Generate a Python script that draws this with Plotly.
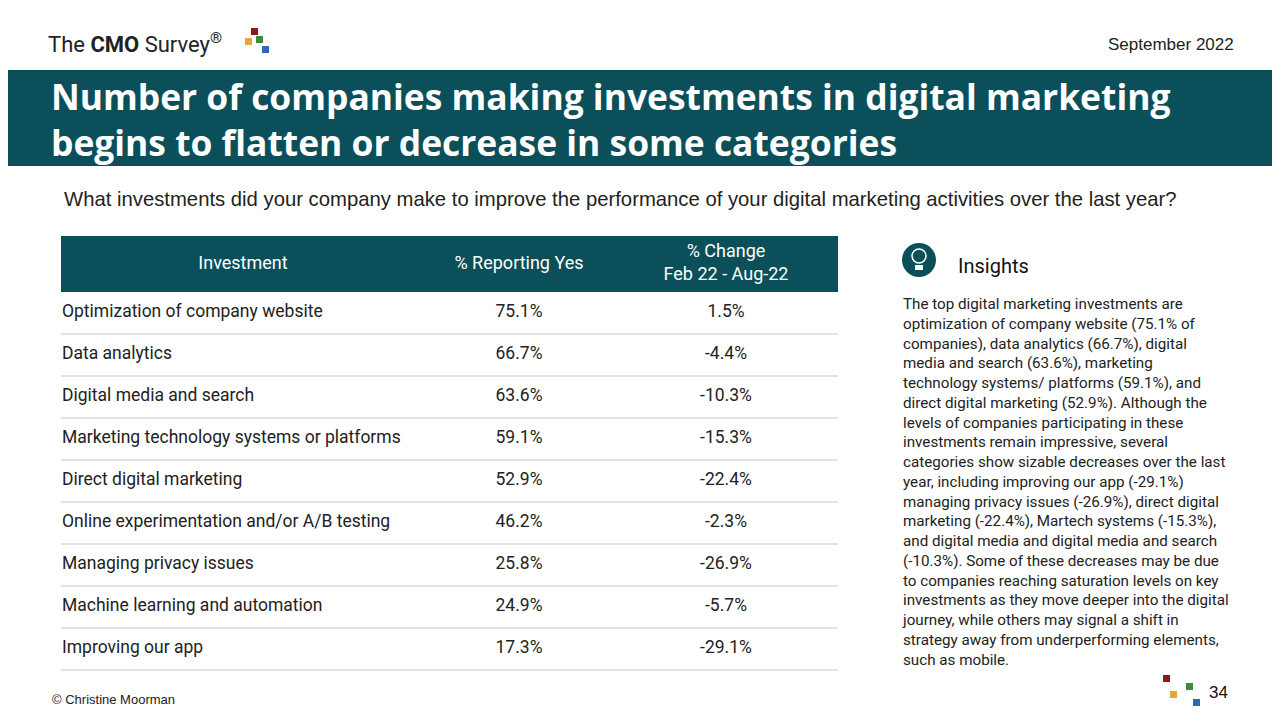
import plotly.graph_objects as go

investments = [
    "Optimization of company website",
    "Data analytics",
    "Digital media and search",
    "Marketing technology systems or platforms",
    "Direct digital marketing",
    "Online experimentation and/or A/B testing",
    "Managing privacy issues",
    "Machine learning and automation",
    "Improving our app",
]
pct_yes = [75.1, 66.7, 63.6, 59.1, 52.9, 46.2, 25.8, 24.9, 17.3]
pct_change = [1.5, -4.4, -10.3, -15.3, -22.4, -2.3, -26.9, -5.7, -29.1]
headers = ["Investment", "% Reporting Yes", "% Change<br>Feb 22 - Aug-22"]

TEAL = "#0b4f5a"
FONT = "Roboto, Arial, sans-serif"
ARIAL = "Liberation Sans, Arial, sans-serif"

row_y = [313 + 42 * i for i in range(len(investments))]

fig = go.Figure()
fig.add_trace(go.Scatter(x=[62] * len(investments), y=row_y, text=investments, mode="text",
                         textposition="middle right", textfont=dict(size=17.5, color="#222", family=FONT),
                         hoverinfo="skip"))
fig.add_trace(go.Scatter(x=[519] * len(pct_yes), y=row_y, text=[f"{v:.1f}%" for v in pct_yes], mode="text",
                         textfont=dict(size=17.5, color="#222", family=FONT), hoverinfo="skip"))
fig.add_trace(go.Scatter(x=[726] * len(pct_change), y=row_y, text=[f"{v:.1f}%" for v in pct_change], mode="text",
                         textfont=dict(size=17.5, color="#222", family=FONT), hoverinfo="skip"))
fig.add_trace(go.Scatter(x=[243, 519, 726], y=[264] * 3, text=headers, mode="text",
                         textfont=dict(size=18, color="white", family=FONT), hoverinfo="skip"))

shapes = [
    dict(type="rect", x0=0, x1=1290, y0=70, y1=166, fillcolor=TEAL, line_width=0, layer="below"),
    dict(type="rect", x0=61, x1=838, y0=236, y1=292, fillcolor=TEAL, line_width=0, layer="below"),
    dict(type="circle", x0=902, x1=936, y0=243, y1=277, fillcolor=TEAL, line_width=0),
    dict(type="circle", x0=912, x1=926, y0=249, y1=263, fillcolor=TEAL, line=dict(color="white", width=1.5)),
    dict(type="rect", x0=915, x1=923, y0=265, y1=270, fillcolor="white", line_width=0),
]
for y in row_y:
    shapes.append(dict(type="line", x0=61, x1=838, y0=y + 21, y1=y + 21, line=dict(color="#c8c8c8", width=1)))

# logo squares
for x0, y0, c in [(251, 28, "#8b1a1a"), (245, 38, "#e8a33d"), (256, 36, "#3a8d3a"), (262, 46, "#2e6bb5"),
                  (1163, 675, "#8b1a1a"), (1170, 691, "#e8a33d"), (1186, 683, "#3a8d3a"), (1193, 699, "#2e6bb5")]:
    shapes.append(dict(type="rect", x0=x0, x1=x0 + 7, y0=y0, y1=y0 + 7, fillcolor=c, line_width=0))

insights = ("The top digital marketing investments are<br>optimization of company website (75.1% of<br>"
            "companies), data analytics (66.7%), digital<br>media and search (63.6%), marketing<br>"
            "technology systems/ platforms (59.1%), and<br>direct digital marketing (52.9%). Although the<br>"
            "levels of companies participating in these<br>investments remain impressive, several<br>"
            "categories show sizable decreases over the last<br>year, including improving our app (-29.1%)<br>"
            "managing privacy issues (-26.9%), direct digital<br>marketing (-22.4%), Martech systems (-15.3%),<br>"
            "and digital media and digital media and search<br>(-10.3%). Some of these decreases may be due<br>"
            "to companies reaching saturation levels on key<br>investments as they move deeper into the digital<br>"
            "journey, while others may signal a shift in<br>strategy away from underperforming elements,<br>"
            "such as mobile.")

annotations = [
    dict(x=46, y=43, text="The <b>CMO</b> Survey<sup>®</sup>", xanchor="left", font=dict(size=22, color="#222", family=FONT)),
    dict(x=1236, y=44, text="September 2022", xanchor="right", font=dict(size=17, color="#222", family=ARIAL)),
    dict(x=49, y=119, text="<b>Number of companies making investments in digital marketing<br>begins to flatten or decrease in some categories</b>",
         xanchor="left", align="left", font=dict(size=35.4, color="white", family="Open Sans, sans-serif")),
    dict(x=62, y=199, text="What investments did your company make to improve the performance of your digital marketing activities over the last year?",
         xanchor="left", font=dict(size=20.3, color="#222", family=ARIAL)),
    dict(x=956, y=266, text="Insights", xanchor="left", font=dict(size=20, color="#111", family=FONT)),
    dict(x=900, y=293, text=insights, xanchor="left", yanchor="top", align="left",
         font=dict(size=15.2, color="#222", family=FONT)),
    dict(x=50, y=699, text="© Christine Moorman", xanchor="left", font=dict(size=13, color="#222", family=ARIAL)),
    dict(x=1230, y=692, text="34", xanchor="right", font=dict(size=17, color="#111", family=ARIAL)),
]
for a in annotations:
    a.update(xref="x", yref="y", showarrow=False)

# page has an 8px body margin, so the axes are offset to keep coordinates in screen pixels
fig.update_layout(
    width=1272, height=712, margin=dict(l=0, r=0, t=0, b=0),
    plot_bgcolor="white", paper_bgcolor="white", showlegend=False,
    xaxis=dict(range=[8, 1280], visible=False, fixedrange=True),
    yaxis=dict(range=[720, 8], visible=False, fixedrange=True),
    shapes=shapes, annotations=annotations,
)

fig.write_html("out.html")
